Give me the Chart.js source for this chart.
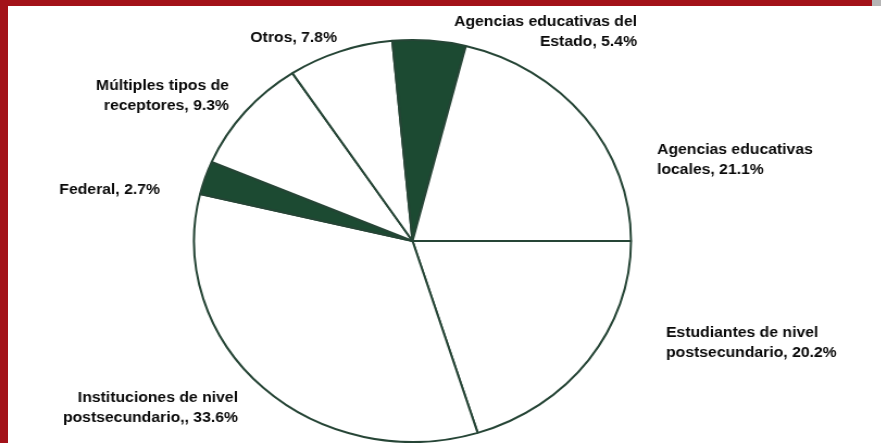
<!DOCTYPE html>
<html>
<head>
<meta charset="utf-8">
<script src="https://cdn.jsdelivr.net/npm/chart.js@4/dist/chart.umd.min.js"></script>
<style>
  html, body { margin: 0; padding: 0; background: #ffffff; }
  body { width: 881px; height: 443px; position: relative; overflow: hidden; }
  #wrap { position: absolute; left: 0; top: 0; width: 811px; height: 443px;
          transform: scaleX(1.087); transform-origin: 0 0; }
  #c { display: block; }
  .bar-left { position: absolute; left: 0; top: 0; width: 8px; height: 443px; background: #a31219; z-index: 5; }
  .bar-top { position: absolute; left: 0; top: 0; width: 872px; height: 6px; background: #a31219; z-index: 5; }
  .corner { position: absolute; left: 872px; top: 0; width: 9px; height: 6px; background: #b5b5b5; z-index: 5; }
</style>
</head>
<body>
<div class="bar-left"></div>
<div class="bar-top"></div>
<div class="corner"></div>
<div id="wrap"><canvas id="c" width="811" height="443"></canvas></div>
<script>
// ---- data ----
const categories = [
  "Estudiantes de nivel postsecundario",
  "Instituciones de nivel postsecundario",
  "Federal",
  "Múltiples tipos de receptores",
  "Otros",
  "Agencias educativas del Estado",
  "Agencias educativas locales"
];
const values = [20.2, 33.6, 2.7, 9.3, 7.8, 5.4, 21.1];
const labelLines = [
  ["Estudiantes de nivel", "postsecundario, 20.2%"],
  ["Instituciones de nivel", "postsecundario,, 33.6%"],
  ["Federal, 2.7%"],
  ["Múltiples tipos de", "receptores, 9.3%"],
  ["Otros, 7.8%"],
  ["Agencias educativas del", "Estado, 5.4%"],
  ["Agencias educativas", "locales, 21.1%"]
];

// ---- styles / layout (page pixel positions of label text) ----
const WHITE = "#ffffff", DARK = "#1c4a32";
const sliceColors = [WHITE, WHITE, DARK, WHITE, WHITE, DARK, WHITE];
const SX = 1.087;       // horizontal stretch of the chart
const TSX = 1.05;       // horizontal stretch of the text
const labelLayout = [
  { x: 666, y: 333, align: "left" },
  { x: 238, y: 398, align: "right" },
  { x: 160, y: 190, align: "right" },
  { x: 229, y: 86,  align: "right" },
  { x: 337, y: 38,  align: "right" },
  { x: 637, y: 22,  align: "right" },
  { x: 657, y: 150, align: "left" }
];
const LINE_H = 20;

const labelPlugin = {
  id: "pieLabels",
  afterDraw(chart) {
    const ctx = chart.ctx;
    ctx.save();
    ctx.scale(TSX / SX, 1);
    ctx.font = "bold 15px 'Liberation Sans', Arial, sans-serif";
    ctx.fillStyle = "#0a0a0a";
    ctx.textBaseline = "middle";
    labelLines.forEach((lines, i) => {
      const L = labelLayout[i];
      ctx.textAlign = L.align;
      lines.forEach((t, j) => {
        ctx.fillText(t, L.x / TSX, L.y + j * LINE_H);
      });
    });
    ctx.restore();
  }
};

new Chart(document.getElementById("c"), {
  type: "pie",
  data: {
    labels: categories,
    datasets: [{
      data: values,
      backgroundColor: sliceColors,
      borderColor: "#264536",
      borderWidth: 2,
      hoverOffset: 0
    }]
  },
  options: {
    responsive: false,
    animation: false,
    rotation: 90,
    radius: 201,
    layout: { padding: { left: 0, right: 52, top: 39, bottom: 0 } },
    plugins: {
      legend: { display: false },
      tooltip: { enabled: false },
      title: { display: false }
    }
  },
  plugins: [labelPlugin]
});
</script>
</body>
</html>
